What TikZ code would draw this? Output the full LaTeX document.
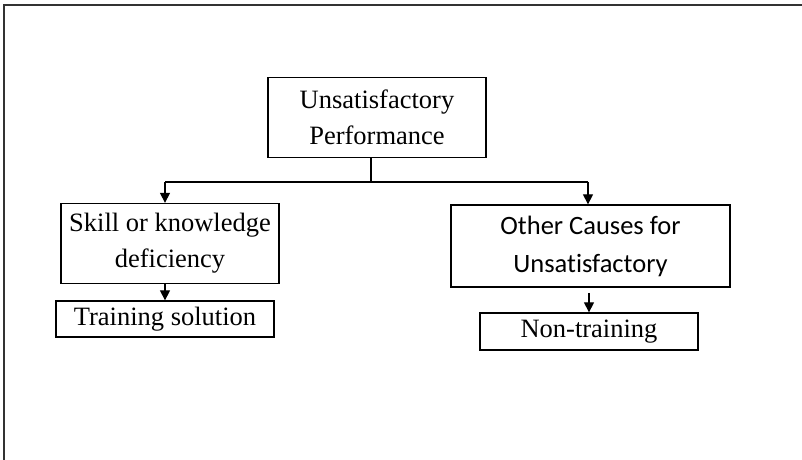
\documentclass[tikz,border=0pt]{standalone}
\usepackage{fontspec}
\setmainfont{Liberation Serif}
\newfontfamily\calibrifont[Ligatures=CommonOff]{Carlito}
\usetikzlibrary{arrows.meta}
\begin{document}
\begin{tikzpicture}[x=1bp,y=-1bp,
  box/.style={draw, line width=1.3bp, align=center, inner sep=0pt,
    font=\fontsize{26.5bp}{36bp}\selectfont},
  link/.style={line width=1.3bp},
  arr/.style={link, -{Triangle[length=10bp,width=10bp]}}]
  \useasboundingbox (0,0) rectangle (802,460);
  % outer frame (only top and left edges lie inside the page)
  \draw[line width=1.5bp, black!80] (4,810) -- (4,5) -- (810,5);

  \node[box, minimum width=218bp, minimum height=80bp] (top) at (377,117.5)
    {Unsatisfactory\\Performance};
  \node[box, minimum width=218bp, minimum height=80bp] (left) at (170,243.5)
    {Skill or knowledge\\deficiency};
  \node[box, minimum width=218bp, minimum height=36bp] (train) at (165,319)
    {Training solution};
  \node[box, minimum width=279bp, minimum height=82bp,
    font=\calibrifont\fontsize{26.5bp}{38bp}\selectfont] (right) at (590.5,246)
    {Other Causes for\\Unsatisfactory};
  \node[box, minimum width=218bp, minimum height=37bp] (nontrain) at (589,331.5)
    {Non-training};

  % branching connector
  \coordinate (j) at (371,182);
  \coordinate (jl) at (165,182);
  \coordinate (jr) at (588,182);
  \coordinate (rs) at (589,293);
  \draw[link] (top.south -| j) -- (j);
  \draw[link] (jl) -- (jr);
  \draw[arr] (jl) -- (jl |- left.north);
  \draw[arr] (jr) -- (jr |- right.north);
  \draw[arr] (left.south -| train.north) -- (train.north);
  \draw[arr] (rs) -- (nontrain.north);
\end{tikzpicture}
\end{document}
